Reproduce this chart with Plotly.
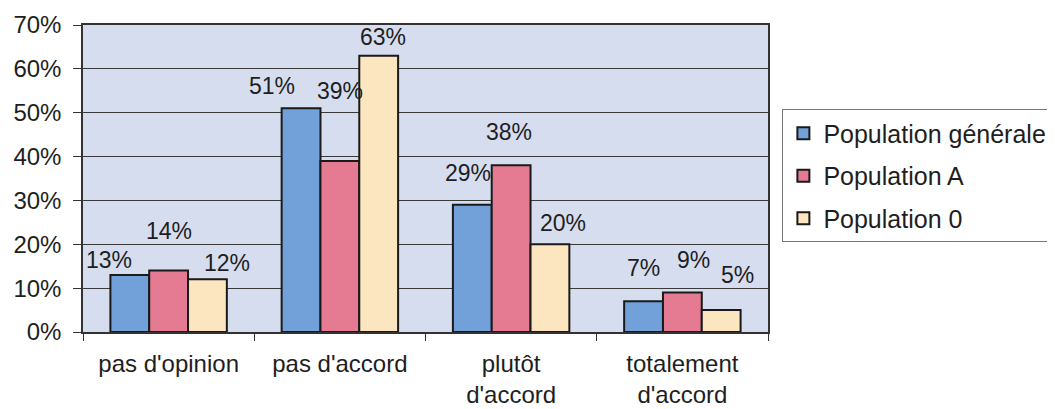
import plotly.graph_objects as go

# data
categories = ["pas d'opinion", "pas d'accord", "plutôt<br>d'accord", "totalement<br>d'accord"]
series_names = ["Population générale", "Population A", "Population 0"]
pop_generale = [0.13, 0.51, 0.29, 0.07]
pop_a = [0.14, 0.39, 0.38, 0.09]
pop_0 = [0.12, 0.63, 0.20, 0.05]

COLORS = ['#72a0d8', '#e57b93', '#fbe6c0']
FONT = 'Liberation Sans, Arial, sans-serif'
BAR_W = 0.68 / 3

# hand-placed label nudges (px) as in the original: (dx, dy up)
label_nudges = [
    [(-21, 15), (-29, 22), (-4, 32), (0, 33)],
    [(0, 40), (0, 70), (-2, 33), (11, 33)],
    [(20, 16), (4, 19), (13, 21), (16, 35)],
]

fig = go.Figure()
annotations = []
for s, (name, vals, color) in enumerate(zip(series_names, [pop_generale, pop_a, pop_0], COLORS)):
    fig.add_trace(go.Bar(
        x=categories,
        y=vals,
        name=name,
        legendgroup=f"g{s}",
        marker=dict(color=color, line=dict(color='#1a1a1a', width=2)),
    ))
    for i, v in enumerate(vals):
        dx, dy = label_nudges[s][i]
        annotations.append(dict(
            x=i + (s - 1) * BAR_W, y=v, xref='x', yref='y',
            text=f"{round(v * 100)}%", showarrow=False,
            xshift=dx, yshift=dy, yanchor='middle',
            font=dict(family=FONT, size=23, color='#1e1e1e'),
        ))

# page body has an 8px margin, so the figure is sized/offset to compensate
fig.update_layout(
    width=1047, height=401,
    barmode='group', bargap=0.32, bargroupgap=0,
    plot_bgcolor='#d6ddef', paper_bgcolor='#ffffff',
    font=dict(family=FONT, size=22, color='#1e1e1e'),
    margin=dict(l=75, r=287, t=17, b=77, autoexpand=False),
    annotations=annotations,
    legend=dict(
        x=1.021, y=0.725, xanchor='left', yanchor='top',
        bordercolor='#777777', borderwidth=1, bgcolor='#ffffff',
        font=dict(family=FONT, size=25, color='#1e1e1e'),
        tracegroupgap=7,
    ),
    xaxis=dict(
        showline=True, linecolor='#333333', linewidth=1.5, mirror=True,
        ticks='outside', ticklen=7, tickcolor='#333333', tickson='boundaries',
        ticklabelstandoff=9, tickfont=dict(size=24), automargin=False,
    ),
    yaxis=dict(
        range=[0, 0.7], dtick=0.1, tickformat='.0%',
        showline=True, linecolor='#333333', linewidth=1.5, mirror=True,
        gridcolor='#3a3a3a', gridwidth=1,
        ticks='outside', ticklen=8, tickcolor='#333333',
        ticklabelstandoff=7, tickfont=dict(size=24),
        zeroline=False, automargin=False,
    ),
)

fig.write_html("out.html")
